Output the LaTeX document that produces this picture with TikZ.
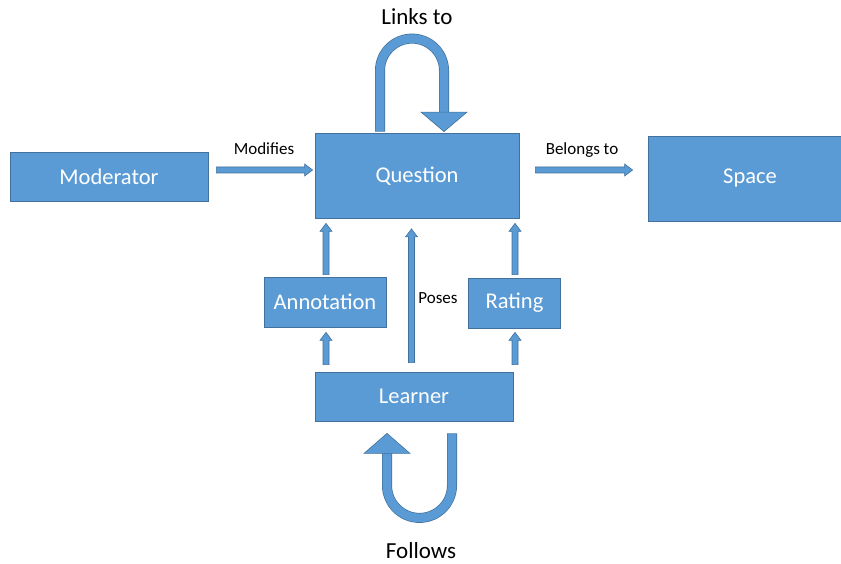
\documentclass[tikz,border=0pt]{standalone}
\usepackage{fontspec}
\setmainfont{Carlito}
\usetikzlibrary{calc}
\definecolor{boxblue}{HTML}{5B9BD5}
\definecolor{boxedge}{HTML}{41719C}
\tikzset{
  blockbox/.style={rectangle, fill=boxblue, draw=boxedge, line width=0.8pt, text=white,
    font=\fontsize{22.5}{26}\selectfont, inner sep=0pt},
  lbl/.style={text=black, font=\fontsize{17}{20}\selectfont, inner sep=0pt},
  biglbl/.style={text=black, font=\fontsize{23}{27}\selectfont, inner sep=0pt},
  arrowfill/.style={fill=boxblue, draw=boxedge, line width=0.6pt, line join=miter},
  loopouter/.style={draw=boxedge, line width=10pt, line cap=butt},
  loopinner/.style={draw=boxblue, line width=8.6pt, line cap=butt},
}
\newcommand\blockarrow[2]{%
  \path ($(#2)!8pt!(#1)$) coordinate (bah);
  \filldraw[arrowfill] ($(#1)!3pt!90:(#2)$) -- ($(bah)!3pt!90:(#2)$) -- ($(bah)!6pt!90:(#2)$)
    -- (#2) -- ($(bah)!6pt!-90:(#2)$) -- ($(bah)!3pt!-90:(#2)$) -- ($(#1)!3pt!-90:(#2)$) -- cycle;
}
\begin{document}
\begin{tikzpicture}[x=1pt,y=-1pt]
\useasboundingbox (0,0) rectangle (841,564);
% boxes
\node[blockbox, minimum width=198pt, minimum height=49pt] (mod) at (109,176.5) {Moderator};
\node[blockbox, minimum width=204pt, minimum height=85pt] (q) at (417,176) {Question};
\node[blockbox, minimum width=220pt, minimum height=85pt] (sp) at (758,178.5) {\hspace*{-16pt}Space};
\node[blockbox, minimum width=122pt, minimum height=50pt] (ann) at (325,302) {Annotation};
\node[blockbox, minimum width=92pt, minimum height=50pt] (rat) at (514.5,303) {Rating};
\node[blockbox, minimum width=198pt, minimum height=49pt] (lea) at (414,396.5) {Learner};
% labels
\node[lbl] (lmod) at (264,149) {Modifies};
\node[lbl] (lbel) at (582,150) {Belongs to};
\node[lbl] (lpos) at (438,298) {Poses};
\node[biglbl] (llink) at (417,17) {Links to};
\node[biglbl] (lfol) at (421,551) {Follows};
% straight block arrows
\coordinate (m1) at ($(mod.east)+(8,-6.5)$);
\coordinate (m2) at ($(q.west)+(-2,-6)$);
\blockarrow{m1}{m2}
\coordinate (b1) at ($(q.east)+(16,-6)$);
\coordinate (b2) at ($(sp.west)+(-15,-8.5)$);
\blockarrow{b1}{b2}
\coordinate (a1) at ($(ann.north)+(1,-2)$);
\coordinate (a2) at ($(ann.north |- q.south)+(1,4.5)$);
\blockarrow{a1}{a2}
\coordinate (a3) at ($(lea.north -| ann.south)+(1,-7)$);
\coordinate (a4) at ($(ann.south)+(1,5)$);
\blockarrow{a3}{a4}
\coordinate (p1) at ($(lea.north)+(-2.5,-9)$);
\coordinate (p2) at ($(q.south)+(-5.5,10)$);
\blockarrow{p1}{p2}
\coordinate (r1) at ($(rat.north)+(0.5,-3)$);
\coordinate (r2) at ($(rat.north |- q.south)+(0.5,4.5)$);
\blockarrow{r1}{r2}
\coordinate (r3) at ($(lea.north -| rat.south)+(0.5,-7)$);
\coordinate (r4) at ($(rat.south)+(0.5,4)$);
\blockarrow{r3}{r4}
% top loop (Links to)
\coordinate (t1) at ($(q.north)+(-37,-1.5)$);
\coordinate (t2) at ($(q.north)+(27,-21)$);
\coordinate (t3) at ($(q.north)+(27,-1.5)$);
\draw[loopouter] (t1) -- ++(0,-61) arc[start angle=180, end angle=0, radius=32pt] -- (t2);
\draw[loopinner] ($(t1)+(0,-0.5)$) -- ++(0,-60.5) arc[start angle=180, end angle=0, radius=32pt] -- ($(t2)+(0,0.5)$);
\filldraw[arrowfill] ($(t2)+(-23,0)$) -- (t3) -- ($(t2)+(23,0)$) -- cycle;
% bottom loop (Follows)
\coordinate (f1) at ($(lea.south)+(38,12)$);
\coordinate (f2) at ($(lea.south)+(-27,32)$);
\coordinate (f3) at ($(lea.south)+(-27,12)$);
\draw[loopouter] (f1) -- ++(0,52) arc[start angle=0, end angle=-180, radius=32.5pt] -- (f2);
\draw[loopinner] ($(f1)+(0,0.5)$) -- ++(0,51.5) arc[start angle=0, end angle=-180, radius=32.5pt] -- ($(f2)+(0,-0.5)$);
\filldraw[arrowfill] ($(f2)+(-23,0)$) -- (f3) -- ($(f2)+(23,0)$) -- cycle;
\end{tikzpicture}
\end{document}
